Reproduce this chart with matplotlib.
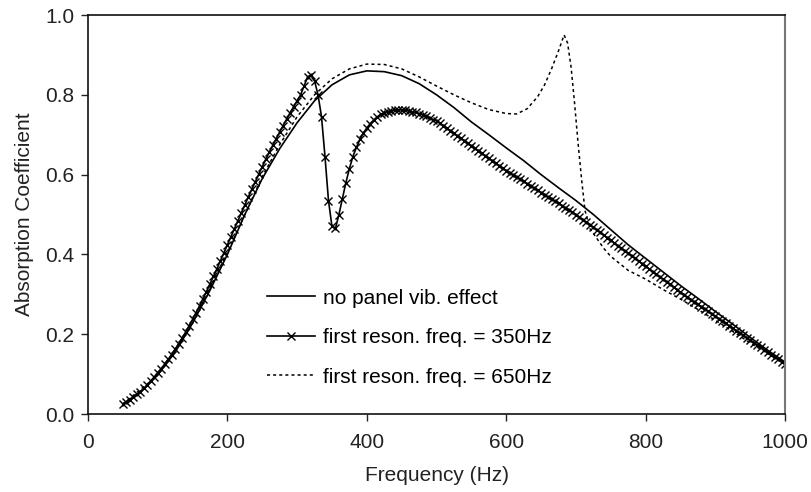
import matplotlib
matplotlib.use("Agg")
import matplotlib.pyplot as plt

plt.rcParams["font.family"] = ["Liberation Sans", "DejaVu Sans"]

# no panel vibration effect
freq_none = [50, 75, 100, 125, 150, 175, 200, 225, 250, 275, 300, 325, 350, 375,
             400, 425, 450, 475, 500, 525, 550, 575, 600, 625, 650, 675, 700, 725,
             750, 775, 800, 825, 850, 875, 900, 925, 950, 975, 1000]
alpha_none = [0.025, 0.055, 0.098, 0.155, 0.228, 0.31, 0.40, 0.50, 0.59, 0.665,
              0.73, 0.785, 0.825, 0.85, 0.86, 0.858, 0.848, 0.828, 0.80, 0.768,
              0.732, 0.70, 0.667, 0.635, 0.60, 0.567, 0.535, 0.50, 0.462, 0.424,
              0.39, 0.356, 0.322, 0.29, 0.257, 0.225, 0.192, 0.16, 0.13]

# first resonance at 350 Hz (5 Hz steps)
freq_350 = list(range(50, 1001, 5))
alpha_350 = [
    0.025, 0.030, 0.036, 0.042, 0.049, 0.056, 0.064, 0.073, 0.083, 0.093,
    0.104, 0.114, 0.125, 0.137, 0.149, 0.162, 0.176, 0.190, 0.205, 0.221,
    0.237, 0.254, 0.271, 0.289, 0.307, 0.326, 0.345, 0.364, 0.384, 0.404,
    0.424, 0.444, 0.464, 0.484, 0.504, 0.524, 0.544, 0.563, 0.582, 0.601,
    0.620, 0.638, 0.656, 0.673, 0.690, 0.707, 0.723, 0.739, 0.755, 0.770,
    0.785, 0.800, 0.822, 0.845, 0.850, 0.835, 0.800, 0.745, 0.645, 0.535,
    0.470, 0.465, 0.500, 0.540, 0.580, 0.615, 0.645, 0.668, 0.688, 0.704,
    0.717, 0.728, 0.737, 0.745, 0.751, 0.755, 0.758, 0.760, 0.761, 0.762,
    0.762, 0.761, 0.760, 0.758, 0.756, 0.753, 0.750, 0.746, 0.742, 0.738,
    0.735, 0.729, 0.723, 0.716, 0.710, 0.704, 0.697, 0.691, 0.685, 0.678,
    0.672, 0.666, 0.660, 0.653, 0.647, 0.641, 0.635, 0.629, 0.622, 0.616,
    0.610, 0.605, 0.599, 0.594, 0.588, 0.583, 0.577, 0.572, 0.566, 0.561,
    0.555, 0.550, 0.544, 0.539, 0.533, 0.528, 0.522, 0.517, 0.511, 0.506,
    0.500, 0.494, 0.487, 0.481, 0.474, 0.468, 0.461, 0.455, 0.448, 0.442,
    0.435, 0.429, 0.422, 0.416, 0.409, 0.403, 0.396, 0.390, 0.383, 0.377,
    0.370, 0.364, 0.357, 0.351, 0.344, 0.338, 0.331, 0.325, 0.318, 0.312,
    0.305, 0.299, 0.293, 0.287, 0.281, 0.275, 0.269, 0.263, 0.257, 0.251,
    0.245, 0.239, 0.233, 0.227, 0.221, 0.215, 0.209, 0.203, 0.197, 0.191,
    0.185, 0.179, 0.173, 0.167, 0.161, 0.155, 0.149, 0.143, 0.137, 0.131,
    0.125]

# first resonance at 650 Hz
freq_650 = [50, 100, 150, 200, 225, 250, 275, 300, 325, 350, 375, 400, 425, 450,
            475, 500, 525, 550, 575, 600, 615, 630, 645, 655, 665, 675, 683, 688,
            693, 698, 703, 708, 713, 720, 730, 740, 750, 775, 800, 825, 850, 875,
            900, 925, 950, 975, 1000]
alpha_650 = [0.025, 0.097, 0.228, 0.405, 0.50, 0.595, 0.675, 0.745, 0.80, 0.84,
             0.865, 0.877, 0.876, 0.865, 0.845, 0.822, 0.80, 0.78, 0.763, 0.753,
             0.752, 0.765, 0.795, 0.825, 0.865, 0.91, 0.95, 0.93, 0.87, 0.78,
             0.68, 0.59, 0.51, 0.465, 0.44, 0.415, 0.395, 0.36, 0.338, 0.312,
             0.288, 0.262, 0.235, 0.207, 0.178, 0.152, 0.125]

labels = ["no panel vib. effect",
          "first reson. freq. = 350Hz",
          "first reson. freq. = 650Hz"]

fs = 15
fig = plt.figure(figsize=(8.11, 4.92), dpi=100)
ax = fig.add_axes([0.1085, 0.1585, 0.8595, 0.811])

ax.plot(freq_none, alpha_none, color="black", lw=1.2, label=labels[0])
ax.plot(freq_350, alpha_350, color="black", lw=1.2, marker="x", ms=5.5,
        mew=1.0, label=labels[1])
ax.plot(freq_650, alpha_650, color="black", lw=1.1, ls=(0, (2, 2)),
        label=labels[2])

ax.set_xlim(0, 1000)
ax.set_ylim(0, 1.0)
ax.set_xticks([0, 200, 400, 600, 800, 1000])
ax.set_yticks([0.0, 0.2, 0.4, 0.6, 0.8, 1.0])
ax.set_yticklabels(["0.0", "0.2", "0.4", "0.6", "0.8", "1.0"])
ax.tick_params(direction="out", length=5, width=1, labelsize=fs,
               colors="#222222", top=False, right=False)
ax.tick_params(axis="x", pad=9)
ax.tick_params(axis="y", pad=5)
for s in ["left", "bottom", "top"]:
    ax.spines[s].set_linewidth(1.2)
    ax.spines[s].set_color("#111111")
ax.spines["right"].set_color("#777777")
ax.spines["right"].set_linewidth(1.5)

ax.set_xlabel("Frequency (Hz)", fontsize=fs, color="#222222", labelpad=10)
ax.set_ylabel("Absorption Coefficient", fontsize=fs, color="#222222", labelpad=8)

ax.legend(loc="upper left", bbox_to_anchor=(0.245, 0.335), frameon=False,
          fontsize=fs, handlelength=2.3, handletextpad=0.4, labelspacing=0.98,
          borderaxespad=0)

fig.savefig("out.png", dpi=100)
